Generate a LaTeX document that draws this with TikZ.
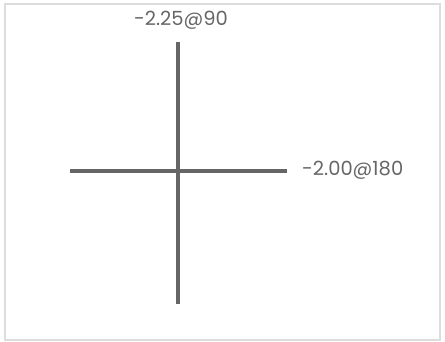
\documentclass[tikz,border=0pt]{standalone}
\usepackage{fontspec}
\setmainfont{Poppins}
\definecolor{linegray}{HTML}{666666}
\definecolor{textgray}{HTML}{666666}
\definecolor{framegray}{HTML}{DDDDDD}
\begin{document}
\begin{tikzpicture}[x=1pt,y=-1pt,
  bar/.style={draw=linegray,line width=4.5pt},
  lbl/.style={text=textgray,font=\fontsize{19.5}{22}\selectfont,inner sep=0pt}]
\useasboundingbox (0,0) rectangle (445,342);
\draw[framegray,line width=2pt] (5,4) rectangle (440,340);
\coordinate (vtop) at (178,42);
\coordinate (vbot) at (178,304);
\coordinate (hl) at (70,171);
\coordinate (hr) at (287,171);
\draw[bar] (vtop) -- (vbot);
\draw[bar] (hl) -- (hr);
\node[lbl,anchor=center] (t1) at (181,20) {-2.25@90};
\node[lbl,anchor=west] (t2) at (302,170) {-2.00@180};
\end{tikzpicture}
\end{document}
